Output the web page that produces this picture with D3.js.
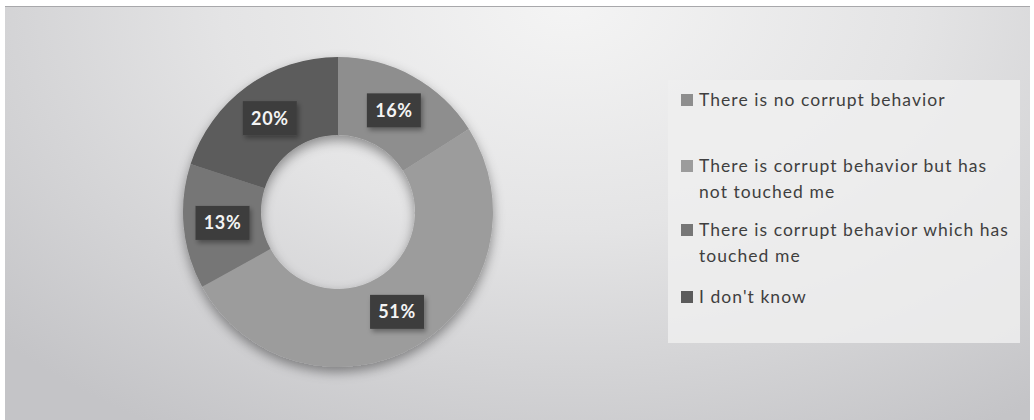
<!DOCTYPE html>
<html>
<head>
<meta charset="utf-8">
<script src="https://cdn.jsdelivr.net/npm/d3@7"></script>
<style>
  html, body { margin: 0; padding: 0; background: #ffffff; }
  svg { display: block; }
</style>
</head>
<body>
<svg id="chart" width="1034" height="420"></svg>
<script>
// Survey answers about corrupt behavior (share of respondents)
const categories = [
  "There is no corrupt behavior",
  "There is corrupt behavior but has not touched me",
  "There is corrupt behavior which has touched me",
  "I don't know"
];
const legendLines = [
  ["There is no corrupt behavior"],
  ["There is corrupt behavior but has", "not touched me"],
  ["There is corrupt behavior which has", "touched me"],
  ["I don't know"]
];
const values = [16, 51, 13, 20];
const sliceColors = ["#8e8e8e", "#9c9c9c", "#767676", "#5b5b5b"];

const svg = d3.select("#chart");
const W = 1034, H = 420;
const defs = svg.append("defs");

// Background: pale centre fading to grey at the sides
const bg = defs.append("radialGradient")
  .attr("id", "bgGrad")
  .attr("cx", "0.55").attr("cy", "0.0").attr("r", "0.75")
  .attr("gradientTransform", "translate(0.55,0) scale(1,1.6) translate(-0.55,0)");
bg.append("stop").attr("offset", "0").attr("stop-color", "#f4f4f4");
bg.append("stop").attr("offset", "0.45").attr("stop-color", "#e4e4e5");
bg.append("stop").attr("offset", "1").attr("stop-color", "#c4c4c7");

const shadow = defs.append("filter").attr("id", "shadow")
  .attr("x", "-20%").attr("y", "-20%").attr("width", "140%").attr("height", "140%");
shadow.append("feDropShadow").attr("dx", 0).attr("dy", 5).attr("stdDeviation", 6)
  .attr("flood-color", "#000").attr("flood-opacity", 0.4);

const boxShadow = defs.append("filter").attr("id", "boxShadow")
  .attr("x", "-30%").attr("y", "-30%").attr("width", "160%").attr("height", "160%");
boxShadow.append("feDropShadow").attr("dx", 2).attr("dy", 3).attr("stdDeviation", 2.5)
  .attr("flood-color", "#000").attr("flood-opacity", 0.35);

svg.append("rect").attr("x", 0).attr("y", 0).attr("width", W).attr("height", H).attr("fill", "#ffffff");
svg.append("rect")
  .attr("x", 5).attr("y", 6).attr("width", W - 9).attr("height", H - 6)
  .attr("fill", "url(#bgGrad)");
svg.append("line")
  .attr("x1", 5).attr("x2", W - 4).attr("y1", 6.5).attr("y2", 6.5)
  .attr("stroke", "#a8a8ab").attr("stroke-width", 1);

// Donut
const cx = 338, cy = 212, outerR = 155, innerR = 77;
const pie = d3.pie().sort(null).value(d => d)(values);
const arc = d3.arc().innerRadius(innerR).outerRadius(outerR);
const labelArc = d3.arc().innerRadius((innerR + outerR) / 2).outerRadius((innerR + outerR) / 2);

const g = svg.append("g").attr("transform", `translate(${cx},${cy})`);
g.append("g").attr("filter", "url(#shadow)")
  .selectAll("path")
  .data(pie)
  .join("path")
  .attr("d", arc)
  .attr("fill", (d, i) => sliceColors[i]);

// Value labels in dark boxes
const lab = g.selectAll("g.lab")
  .data(pie)
  .join("g")
  .attr("class", "lab")
  .attr("transform", d => `translate(${labelArc.centroid(d)})`);
lab.append("rect")
  .attr("x", -27).attr("y", -17).attr("width", 54).attr("height", 34)
  .attr("fill", "#3d3d3d")
  .attr("filter", "url(#boxShadow)");
lab.append("text")
  .attr("text-anchor", "middle")
  .attr("dy", "0.36em")
  .attr("font-family", "Lato, 'Open Sans', sans-serif")
  .attr("font-weight", "bold")
  .attr("font-size", 18)
  .attr("letter-spacing", 0.6)
  .attr("fill", "#f4f4f4")
  .text((d, i) => values[i] + "%");

// Legend
const legend = svg.append("g");
legend.append("rect")
  .attr("x", 668).attr("y", 80).attr("width", 352).attr("height", 263)
  .attr("fill", "#efefef").attr("fill-opacity", 0.85);

const itemY = [100, 166, 230, 297];
const items = legend.selectAll("g.item")
  .data(categories)
  .join("g")
  .attr("class", "item")
  .attr("transform", (d, i) => `translate(681,${itemY[i]})`);
items.append("rect")
  .attr("x", 0).attr("y", -6).attr("width", 12).attr("height", 12)
  .attr("fill", (d, i) => sliceColors[i]);
items.append("text")
  .attr("x", 18)
  .attr("font-family", "Lato, 'Open Sans', sans-serif")
  .attr("font-size", 17.5)
  .attr("letter-spacing", 1.05)
  .attr("fill", "#3f3f3f")
  .selectAll("tspan")
  .data((d, i) => legendLines[i])
  .join("tspan")
  .attr("x", 18)
  .attr("y", (d, j) => j * 26)
  .attr("dy", "0.35em")
  .text(d => d);
</script>
</body>
</html>
